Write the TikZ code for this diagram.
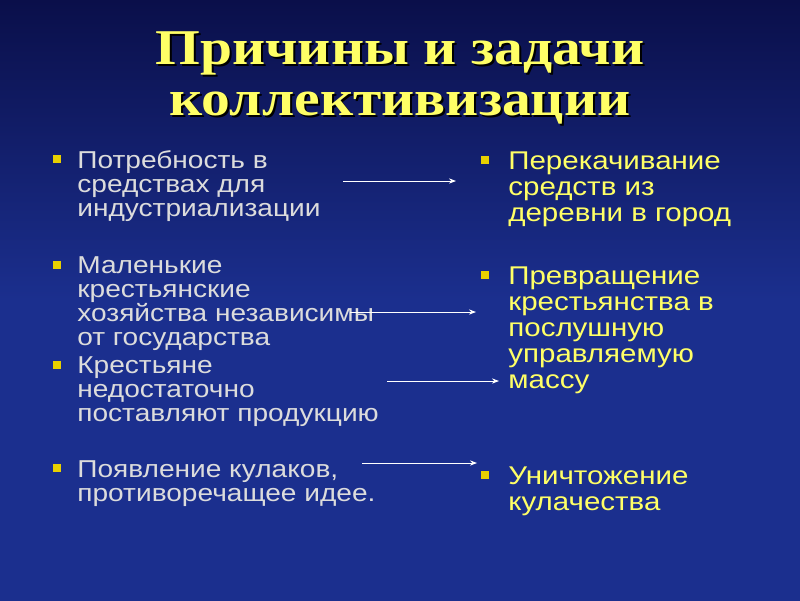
\documentclass[tikz,border=0pt]{standalone}
\usepackage{fontspec}
\setmainfont{Liberation Sans}[FakeStretch=1.15]
\newfontfamily\titlefont{Liberation Serif}[FakeStretch=1.15]
\usetikzlibrary{arrows.meta}
\definecolor{bgtop}{HTML}{0A0F4A}
\definecolor{bgmid}{HTML}{1B2F8E}
\definecolor{ttlyellow}{HTML}{FFFF66}
\definecolor{lefttext}{HTML}{DCDCDC}
\definecolor{bullet}{HTML}{E8D000}
\tikzset{
  lefttxt/.style={anchor=north west,inner sep=0pt,align=left,text=lefttext,
    font=\fontsize{13.9}{13.7}\selectfont},
  righttxt/.style={anchor=north west,inner sep=0pt,align=left,text=ttlyellow,
    font=\fontsize{14.6}{14.8}\selectfont},
  bulletbox/.style={fill=bullet,minimum size=7pt,inner sep=0pt,scale=0.7},
  link/.style={white,line width=0.5pt,-{Stealth[length=4pt,width=3pt]}}
}
\begin{document}
\begin{tikzpicture}[x=0.02cm,y=-0.02cm]
        %фон
        \shade[top color=bgtop,bottom color=bgmid,middle color=bgmid] (0,0) rectangle (800,600);
        \useasboundingbox (0,0) rectangle (800,600);
        %заголовок
        \node[text=black,font=\titlefont\bfseries\fontsize{28.5}{29}\selectfont,align=center] (shadow) at (402,80) {Причины и задачи\\коллективизации};
        \node[text=ttlyellow,font=\titlefont\bfseries\fontsize{28.5}{29}\selectfont,align=center] (title) at (400,78) {Причины и задачи\\коллективизации};
        %причины
        \node[lefttxt] (need) at (77,150) {Потребность в\\средствах для\\индустриализации};
        \node[lefttxt] (small) at (77,256) {Маленькие\\крестьянские\\хозяйства независимы\\от государства};
        \node[lefttxt] (supply) at (77,356) {Крестьяне\\недостаточно\\поставляют продукцию};
        \node[lefttxt] (kulak) at (77,460) {Появление кулаков,\\противоречащее идее.};
        %задачи
        \node[righttxt] (pump) at (508,151) {Перекачивание\\средств из\\деревни в город};
        \node[righttxt] (turn) at (508,266) {Превращение\\крестьянства в\\послушную\\управляемую\\массу};
        \node[righttxt] (destroy) at (508,466) {Уничтожение\\кулачества};
        %маркеры
        \foreach \y [count=\i] in {159,265,365,468}
                \node[bulletbox] (bl\i) at (57,\y) {};
        \foreach \y [count=\i] in {160,275,475}
                \node[bulletbox] (br\i) at (485,\y) {};
        %стрелки
        \coordinate (a1) at (343,181); \coordinate (b1) at (456,181);
        \coordinate (a2) at (350,312); \coordinate (b2) at (476,312);
        \coordinate (a3) at (387,381); \coordinate (b3) at (499,381);
        \coordinate (a4) at (362,463); \coordinate (b4) at (477,463);
        \foreach \i in {1,...,4}
                \draw[link] (a\i) -- (b\i);
\end{tikzpicture}
\end{document}
